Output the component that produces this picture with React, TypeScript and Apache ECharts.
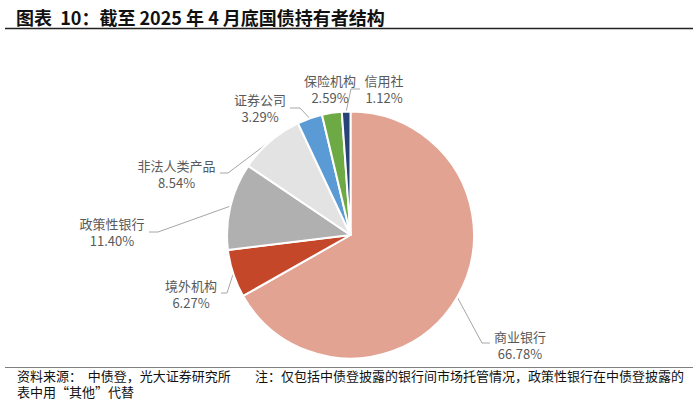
import React, { useEffect, useRef } from "react";
import * as echarts from "echarts";

const categories = ["商业银行", "境外机构", "政策性银行", "非法人类产品", "证券公司", "保险机构", "信用社"];
const shares = [66.78, 6.27, 11.4, 8.54, 3.29, 2.59, 1.12];
const colors = ["#E2A393", "#C5472A", "#B0B0B0", "#E3E3E3", "#5B9BD5", "#6DAA45", "#264478"];

const titleText = "图表  10：截至 2025 年 4 月底国债持有者结构";
const sourceText = "资料来源：  中债登，光大证券研究所";
const noteText1 = "注：仅包括中债登披露的银行间市场托管情况，政策性银行在中债登披露的";
const noteText2 = "表中用“其他”代替";

// label layout (positions of label blocks and leader-line bends)
const labelCenters: number[][] = [
  [520, 345],
  [191, 294],
  [112, 232],
  [176.5, 174],
  [260, 108],
  [330, 89],
  [384, 89],
];
const lineBends: (number[][] | null)[] = [
  [[482, 343], [490, 343]],
  [[227, 293], [221, 293]],
  [[158, 232], [149, 232]],
  [[228, 173], [220, 173]],
  [[300, 108], [290, 108]],
  null,
  [[351, 89], [360, 89]],
];

export default function App() {
  const ref = useRef<HTMLDivElement>(null);
  useEffect(() => {
    if (!ref.current) return;
    const chart = echarts.init(ref.current, null, { renderer: "svg" });
    const font = '"Noto Sans CJK SC", "Noto Sans", sans-serif';
    chart.setOption({
      animation: false,
      backgroundColor: "#ffffff",
      graphic: [
        {
          type: "text",
          x: 16,
          y: 17,
          style: {
            text: titleText,
            font: `bold 18px ${font}`,
            fill: "#111111",
            textVerticalAlign: "middle",
          },
        },
        {
          type: "line",
          shape: { x1: 5, y1: 28.5, x2: 693, y2: 28.5 },
          style: { stroke: "#222222", lineWidth: 1.5 },
        },
        {
          type: "line",
          shape: { x1: 5, y1: 367.5, x2: 693, y2: 367.5 },
          style: { stroke: "#7f7f7f", lineWidth: 1 },
        },
        {
          type: "text",
          x: 17,
          y: 375,
          style: { text: sourceText, font: `13px ${font}`, fill: "#111111", textVerticalAlign: "middle" },
        },
        {
          type: "text",
          x: 255,
          y: 375,
          style: { text: noteText1, font: `13px ${font}`, fill: "#111111", textVerticalAlign: "middle" },
        },
        {
          type: "text",
          x: 17,
          y: 391,
          style: { text: noteText2, font: `13px ${font}`, fill: "#111111", textVerticalAlign: "middle" },
        },
      ],
      series: [
        {
          type: "pie",
          center: [350.5, 235],
          radius: 123.5,
          startAngle: 90,
          clockwise: true,
          avoidLabelOverlap: false,
          itemStyle: { borderColor: "#ffffff", borderWidth: 2 },
          label: {
            show: true,
            position: "outside",
            overflow: "none",
            fontFamily: font,
            fontSize: 13,
            lineHeight: 16.5,
            color: "#595959",
            formatter: (p: any) => `${p.name}\n${Number(p.value).toFixed(2)}%`,
          },
          labelLine: {
            show: true,
            smooth: false,
            lineStyle: { color: "#A6A6A6", width: 1 },
          },
          labelLayout: (params: any) => {
            const i = params.dataIndex;
            const c = labelCenters[i];
            const bends = lineBends[i];
            const start = params.labelLinePoints && params.labelLinePoints[0];
            const out: any = { x: c[0], y: c[1], align: "center", verticalAlign: "middle" };
            if (bends && start) {
              out.labelLinePoints = [[start[0], start[1]], bends[0], bends[1]];
            }
            return out;
          },
          data: categories.map((name, i) => ({
            name,
            value: shares[i],
            itemStyle: { color: colors[i] },
            labelLine: { show: lineBends[i] !== null },
          })),
        },
      ],
    });
    return () => chart.dispose();
  }, []);
  return (
    <div
      ref={ref}
      style={{ position: "absolute", left: 0, top: 0, width: 699, height: 403 }}
    />
  );
}
